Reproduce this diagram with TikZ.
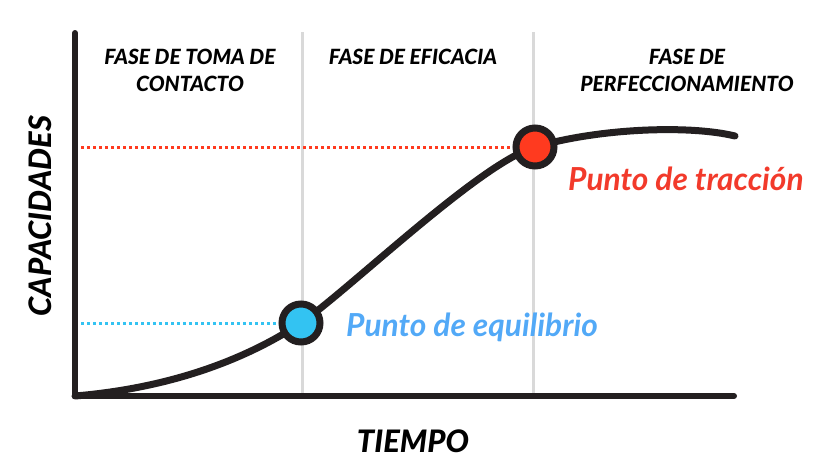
\documentclass[tikz,border=0pt]{standalone}
\usepackage{fontspec}
\setmainfont{Lato}
\newfontfamily\heavyfont{Lato Black Italic}
\definecolor{curveblack}{HTML}{231F20}
\definecolor{phasegray}{HTML}{D9D9D9}
\definecolor{tracred}{HTML}{FF3A1F}
\definecolor{tracredtxt}{HTML}{F23A2B}
\definecolor{equilblue}{HTML}{33C3F2}
\definecolor{equilbluetxt}{HTML}{52A9F7}

\begin{document}
\begin{tikzpicture}[x=1pt,y=-1pt,
    axis/.style={line width=6pt, color=curveblack, line cap=round, line join=round},
    phase/.style={line width=3pt, color=phasegray},
    guide/.style={line width=3pt, dash pattern=on 3pt off 3pt},
    curve/.style={line width=7pt, color=curveblack, line cap=round},
    hito/.style={circle, draw=curveblack, line width=7pt, minimum size=38pt, inner sep=0pt},
    fase/.style={align=center, anchor=north, inner sep=0pt, font=\heavyfont\fontsize{21}{27}\selectfont},
    eje/.style={inner sep=0pt, font=\heavyfont\fontsize{31}{36}\selectfont},
    hitotxt/.style={anchor=base west, inner sep=0pt, font=\bfseries\itshape\fontsize{31.7}{36}\selectfont}]

      \useasboundingbox (0,0) rectangle (831,463);

      % Axes corners and points
      \coordinate (O) at (75,396);
      \coordinate (ytop) at (75,33);
      \coordinate (xend) at (734,396);
      \coordinate (equilpt) at (301,323);
      \coordinate (tracpt) at (535,147);
      \coordinate (curveend) at (735,136);

      % Phase separators
      \draw[phase] (302,32) -- (302,396);
      \draw[phase] (533,32) -- (533,396);

      % Guide lines to the y axis
      \draw[guide, equilblue] (O |- equilpt) -- (equilpt);
      \draw[guide, tracred] (O |- tracpt) -- (tracpt);

      % Learning curve
      \draw[curve] (O) .. controls (170,388) and (245,360) .. (equilpt)
                       .. controls (350,289) and (480,163) .. (tracpt)
                       .. controls (600,128) and (690,125) .. (curveend);

      % Draw axes
      \draw[axis] (ytop) -- (O) -- (xend);

      % Mark the points
      \node[hito, fill=equilblue] (equil) at (equilpt) {};
      \node[hito, fill=tracred] (trac) at (tracpt) {};
      \node[hitotxt, text=equilbluetxt] (equiltxt) at (346,336) {Punto de equilibrio};
      \node[hitotxt, text=tracredtxt] (tractxt) at (568,190) {Punto de tracción};

      % Phase titles
      \node[fase] (toma) at (190,49) {FASE DE TOMA DE\\CONTACTO};
      \node[fase] (eficacia) at (413,49) {FASE DE EFICACIA};
      \node[fase] (perfec) at (687,49) {FASE DE\\PERFECCIONAMIENTO};

      % Axis labels
      \node[eje, anchor=base] (tiempo) at (413,452) {TIEMPO};
      \node[eje, rotate=90] (capac) at (40,216) {CAPACIDADES};
  \end{tikzpicture}
\end{document}
